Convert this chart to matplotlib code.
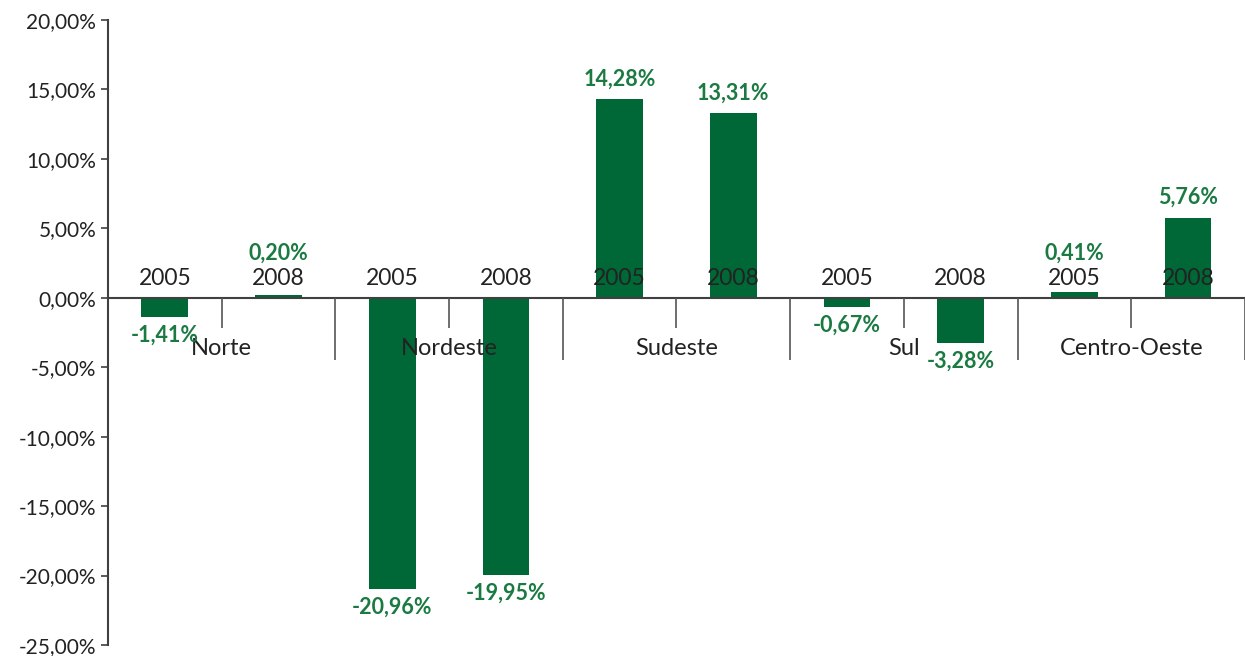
import matplotlib.pyplot as plt

regioes = ["Norte", "Nordeste", "Sudeste", "Sul", "Centro-Oeste"]
anos = ["2005", "2008"]
valores = [-1.41, 0.20, -20.96, -19.95, 14.28, 13.31, -0.67, -3.28, 0.41, 5.76]
yticks = [-25, -20, -15, -10, -5, 0, 5, 10, 15, 20]

verde = "#006837"
verde_txt = "#1a7a42"
cinza = "#404040"

plt.rcParams['font.family'] = ['Lato', 'DejaVu Sans']

fig = plt.figure(figsize=(12.45, 6.56), dpi=100)
ax = fig.add_axes([0.0867, 0.0168, 0.9133, 0.9527])

x = list(range(len(valores)))
ax.bar(x, valores, width=0.41, color=verde, zorder=2)

ax.set_xlim(-0.5, len(valores) - 0.5)
ax.set_ylim(-25, 20)
ax.set_yticks(yticks)
ax.set_yticklabels([("%.2f%%" % v).replace(".", ",") for v in yticks])
ax.tick_params(axis="y", labelsize=15, color=cinza, length=5, width=1.2, labelcolor="#222222")
ax.set_xticks([])
for s in ["top", "right", "bottom"]:
    ax.spines[s].set_visible(False)
ax.spines["left"].set_color(cinza)
ax.spines["left"].set_linewidth(1.5)

ax.axhline(0, color=cinza, lw=1.5, zorder=3)

# separadores das regioes e dos anos
n = len(regioes)
ax.vlines([2 * i + 1.5 for i in range(n)], -4.5, 0, color="#555555", lw=1.2, zorder=3)
ax.vlines([2 * i + 0.5 for i in range(n)], -2.2, 0, color="#555555", lw=1.2, zorder=3)

for i, r in enumerate(regioes):
    ax.text(2 * i + 0.5, -3.65, r, ha="center", va="center", fontsize=17, color="#222222", zorder=5)
    for j, a in enumerate(anos):
        ax.text(2 * i + j, 1.36, a, ha="center", va="center", fontsize=16.5, color="#222222", zorder=5)

for xi, v in zip(x, valores):
    txt = ("%.2f%%" % v).replace(".", ",")
    if v >= 0:
        y = max(v, 1.75) + 1.45
    else:
        y = v - 1.3
    ax.text(xi, y, txt, ha="center", va="center", fontsize=15.5, fontweight="bold", color=verde_txt, zorder=5)

plt.savefig("out.png", dpi=100)
plt.close()
